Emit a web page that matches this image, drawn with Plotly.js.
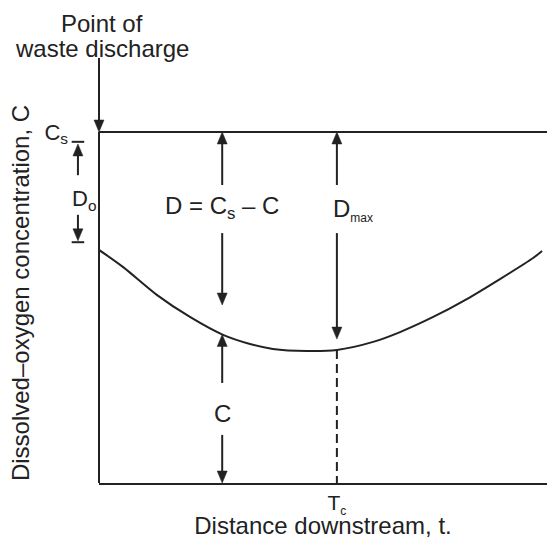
<!DOCTYPE html>
<html><head><meta charset="utf-8">
<script src="https://cdn.plot.ly/plotly-3.0.1.min.js"></script>
<style>html,body{margin:0;padding:0;background:#fff}</style>
</head><body><div id="chart" style="width:547px;height:539px"></div>
<script>
// Oxygen sag curve (arbitrary units)
const distance = [0, 0.54, 1.29, 2.03, 2.77, 3.37, 3.88, 4.64, 5.31, 6.12, 6.72, 7.46, 8.21, 8.95, 9.69, 9.89];
const oxygen   = [6.64, 6.15, 5.36, 4.73, 4.22, 3.96, 3.82, 3.76, 3.79, 4.02, 4.30, 4.73, 5.24, 5.81, 6.41, 6.61];
const saturation = 10;      // Cs
const criticalTime = 5.31;  // Tc
const deficitPos = 2.75;    // where D = Cs - C is marked
const xTickLabels = ['T<sub><span style="font-size:12px">c</span></sub>'];
const yTickLabels = ['C<sub>s</sub>'];

function interp(t) {
  for (let i = 0; i < distance.length - 1; i++) {
    if (t >= distance[i] && t <= distance[i + 1]) {
      const f = (t - distance[i]) / (distance[i + 1] - distance[i]);
      return oxygen[i] + f * (oxygen[i + 1] - oxygen[i]);
    }
  }
  return oxygen[oxygen.length - 1];
}
const cAtD = interp(deficitPos);
const cAtTc = interp(criticalTime);

const ink = '#222';
const F = 'Liberation Sans, Arial, Helvetica, sans-serif';

const W = 547, H = 539, M = { l: 99, r: 0, t: 103, b: 56 };
const xRange = [0, 10], yRange = [0, 10.826];
const plotW = W - M.l - M.r, plotH = H - M.t - M.b;
const pxPer = {
  x: plotW / (xRange[1] - xRange[0]),
  y: plotH / (yRange[1] - yRange[0]),
  paperx: plotW, papery: plotH
};

// vertical arrow drawn as a line plus a filled triangular head
function vArrow(x, yTip, yTail, xref, yref) {
  xref = xref || 'x'; yref = yref || 'y';
  const kx = xref === 'x' ? pxPer.x : pxPer.paperx;
  const ky = yref === 'y' ? pxPer.y : pxPer.papery;
  const dir = yTip > yTail ? 1 : -1;
  const L = 12 / ky, Hw = 5 / kx;
  const base = yTip - dir * L;
  return [
    { type: 'line', xref: xref, yref: yref, x0: x, x1: x, y0: yTail, y1: base + dir * 1 / ky,
      line: { color: ink, width: 2 } },
    { type: 'path', xref: xref, yref: yref,
      path: `M ${x - Hw},${base} L ${x + Hw},${base} L ${x},${yTip} Z`,
      fillcolor: ink, line: { color: ink, width: 0.5 } }
  ];
}

const traces = [
  { x: distance, y: oxygen, mode: 'lines', line: { color: ink, width: 2, shape: 'spline', smoothing: 0.8 }, hoverinfo: 'skip' },
  { x: xRange, y: [saturation, saturation], mode: 'lines', line: { color: ink, width: 2 }, hoverinfo: 'skip' },
  { x: [criticalTime, criticalTime], y: [cAtTc, 0], mode: 'lines', line: { color: ink, width: 2, dash: '9px,5px' }, hoverinfo: 'skip' }
];

function label(x, y, text, size, xanchor, xref) {
  return { x: x, y: y, xref: xref || 'x', yref: 'y', text: text, showarrow: false,
           xanchor: xanchor || 'center', yanchor: 'middle', font: { family: F, size: size || 24, color: ink } };
}
const small = s => `<span style="font-size:12px">${s}</span>`;

const annotations = [
  { x: 0.007, y: 1.2105, xref: 'paper', yref: 'paper', xanchor: 'center', yanchor: 'middle',
    text: 'Point of', showarrow: false, font: { family: F, size: 24, color: ink } },
  { x: 0.007, y: 1.1447, xref: 'paper', yref: 'paper', xanchor: 'center', yanchor: 'middle',
    text: 'waste discharge', showarrow: false, font: { family: F, size: 24, color: ink } },
  label(deficitPos, 7.86, 'D = C<sub>s</sub> – C', 24),
  label(deficitPos, 1.99, 'C', 24),
  label(5.18, 7.78, 'D<sub>' + small('max') + '</sub>', 24, 'left'),
  label(-0.034, 8.06, 'D<sub>o</sub>', 22, 'center', 'paper')
];

const csPaper = saturation / yRange[1];
const shapes = [].concat(
  // y axis line up to Cs
  [{ type: 'line', xref: 'paper', yref: 'y', x0: 0, x1: 0, y0: 0, y1: saturation, line: { color: ink, width: 2 } }],
  // point of waste discharge
  vArrow(0, csPaper, csPaper + 74 / plotH, 'paper', 'paper'),
  // D = Cs - C
  vArrow(deficitPos, saturation, 8.49),
  vArrow(deficitPos, 5.07, 7.12),
  // C
  vArrow(deficitPos, cAtD, 2.85),
  vArrow(deficitPos, 0, 1.37),
  // Dmax
  vArrow(criticalTime, saturation, 8.49),
  vArrow(criticalTime, 4.10, 7.12),
  // D0
  vArrow(-0.047, 9.66, 8.77, 'paper', 'y'),
  vArrow(-0.047, 6.90, 7.64, 'paper', 'y'),
  [
    { type: 'line', xref: 'paper', yref: 'y', x0: -0.061, x1: -0.033, y0: 9.72, y1: 9.72, line: { color: ink, width: 2 } },
    { type: 'line', xref: 'paper', yref: 'y', x0: -0.061, x1: -0.033, y0: 6.86, y1: 6.86, line: { color: ink, width: 2 } }
  ]
);

const layout = {
  width: W, height: H,
  margin: M,
  paper_bgcolor: '#fff', plot_bgcolor: '#fff',
  showlegend: false,
  font: { family: F, color: ink },
  xaxis: {
    range: xRange, showgrid: false, zeroline: false, showline: true, linecolor: ink, linewidth: 2,
    tickvals: [criticalTime], ticktext: xTickLabels, ticks: '', ticklabelstandoff: 0,
    tickfont: { family: F, size: 21, color: ink },
    title: { text: 'Distance downstream, t.', font: { family: F, size: 24, color: ink }, standoff: 3 },
    fixedrange: true
  },
  yaxis: {
    range: yRange, showgrid: false, zeroline: false, showline: false,
    tickvals: [saturation], ticktext: yTickLabels, ticks: '', ticklabelstandoff: 30,
    tickfont: { family: F, size: 22, color: ink },
    title: { text: 'Dissolved–oxygen concentration, C', font: { family: F, size: 24, color: ink }, standoff: 8 },
    fixedrange: true
  },
  annotations: annotations,
  shapes: shapes
};

Plotly.newPlot('chart', traces, layout, { displayModeBar: false, staticPlot: true });
</script>
</body></html>
